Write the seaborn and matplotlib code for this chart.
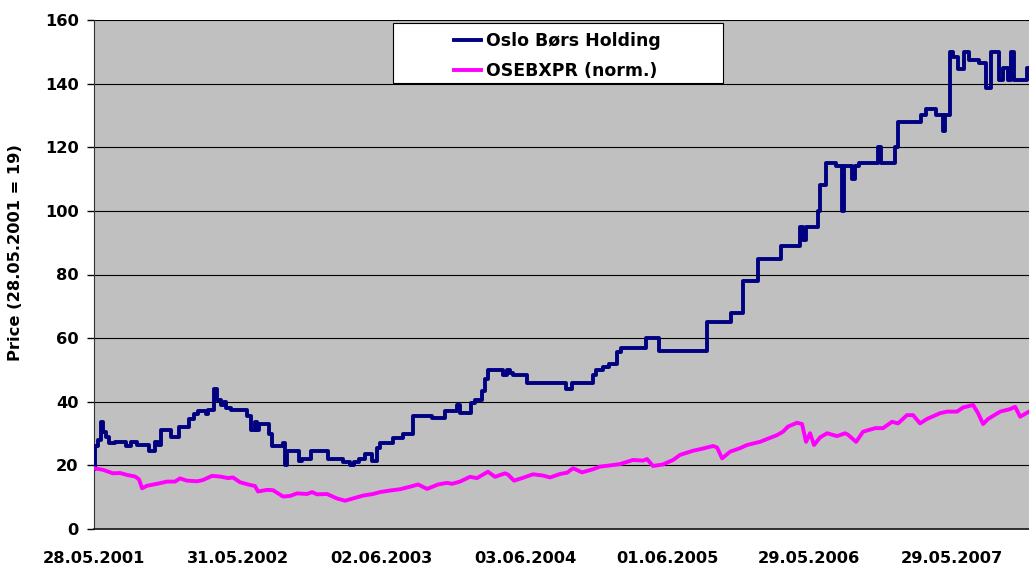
import numpy as np
import matplotlib
matplotlib.use("Agg")
import matplotlib.pyplot as plt
from matplotlib.patches import Rectangle
import pandas as pd
import seaborn as sns

# Start date of both series, time is given in years since this date
start_date = "28.05.2001"

# Oslo Børs Holding (step series: value holds from each time until the next)
holding_t = [0.000, 0.007, 0.028, 0.049, 0.063, 0.084, 0.105, 0.147, 0.224, 0.259,
             0.301, 0.385, 0.427, 0.448, 0.469, 0.538, 0.594, 0.664, 0.699, 0.727,
             0.783, 0.797, 0.839, 0.860, 0.888, 0.909, 0.923, 0.958, 1.070, 1.098,
             1.126, 1.140, 1.154, 1.224, 1.245, 1.322, 1.336, 1.350, 1.434, 1.455,
             1.517, 1.636, 1.741, 1.790, 1.818, 1.853, 1.895, 1.944, 1.979, 2.000,
             2.091, 2.161, 2.231, 2.364, 2.455, 2.538, 2.559, 2.636, 2.664, 2.713,
             2.734, 2.755, 2.860, 2.888, 2.909, 2.930, 3.028, 3.301, 3.343, 3.490,
             3.510, 3.559, 3.601, 3.657, 3.685, 3.860, 3.951, 4.287, 4.455, 4.538,
             4.643, 4.804, 4.937, 4.958, 4.979, 5.063, 5.077, 5.119, 5.189, 5.231,
             5.245, 5.301, 5.322, 5.350, 5.483, 5.503, 5.601, 5.622, 5.783, 5.818,
             5.888, 5.937, 5.951, 5.986, 6.007, 6.042, 6.084, 6.119, 6.189, 6.238,
             6.273, 6.329, 6.357, 6.392, 6.413, 6.434, 6.524, 6.538]
holding_v = [19, 26, 28, 33.5, 30.5, 29, 27, 27.5, 26, 27.5,
             26.5, 24.5, 27.5, 26.5, 31, 29, 32, 34.5, 36, 37,
             36, 37.5, 44, 40.5, 39, 40, 38, 37.5, 35.5, 31,
             33.5, 31, 33, 30, 26, 27, 20, 24.5, 21.5, 22,
             24.5, 22, 21, 20, 21, 22, 23.5, 21.5, 25.5, 27,
             28.5, 30, 35.5, 35, 37, 39, 36.5, 39.5, 40.5, 43.5,
             47, 50, 48.5, 50, 49, 48.5, 46, 44, 46, 48.5,
             50, 51, 52, 55.5, 57, 60, 56, 65, 68, 78,
             85, 89, 95, 91, 95, 100, 108, 115, 114, 100,
             114, 110, 114, 115, 120, 115, 120, 128, 130, 132,
             130, 125, 130, 150, 148.5, 144.5, 150, 147.5, 146.5, 138.5,
             150, 141, 145, 141, 150, 141, 145, 145]

# OSEBXPR, normalised to the same start value
osebx_t = [0.000, 0.063, 0.133, 0.182, 0.231, 0.287, 0.315, 0.336, 0.371, 0.441,
           0.510, 0.566, 0.601, 0.650, 0.720, 0.762, 0.825, 0.881, 0.937, 0.972,
           1.021, 1.077, 1.126, 1.147, 1.210, 1.252, 1.322, 1.371, 1.420, 1.490,
           1.524, 1.559, 1.629, 1.699, 1.755, 1.811, 1.881, 1.951, 2.000, 2.070,
           2.140, 2.210, 2.266, 2.329, 2.406, 2.469, 2.503, 2.559, 2.629, 2.678,
           2.755, 2.804, 2.874, 2.895, 2.937, 3.000, 3.070, 3.140, 3.189, 3.259,
           3.308, 3.350, 3.413, 3.490, 3.538, 3.629, 3.678, 3.769, 3.839, 3.867,
           3.909, 3.979, 4.049, 4.098, 4.189, 4.259, 4.329, 4.357, 4.392, 4.448,
           4.517, 4.566, 4.657, 4.713, 4.776, 4.818, 4.853, 4.916, 4.951, 4.979,
           5.007, 5.035, 5.077, 5.126, 5.196, 5.252, 5.273, 5.329, 5.378, 5.462,
           5.517, 5.580, 5.622, 5.685, 5.727, 5.776, 5.825, 5.916, 5.965, 6.035,
           6.077, 6.147, 6.182, 6.217, 6.252, 6.336, 6.406, 6.441, 6.476, 6.538]
osebx_v = [19.1, 18.6, 17.5, 17.6, 17.0, 16.5, 15.6, 12.8, 13.6, 14.2,
           14.9, 14.9, 15.9, 15.2, 15.0, 15.4, 16.7, 16.5, 16.0, 16.2,
           14.7, 14.0, 13.5, 11.8, 12.3, 12.2, 10.2, 10.4, 11.2, 11.0,
           11.6, 10.9, 11.0, 9.6, 8.9, 9.6, 10.5, 11.0, 11.6, 12.1,
           12.5, 13.3, 14.0, 12.6, 14.0, 14.5, 14.2, 14.9, 16.4, 16.0,
           18.0, 16.4, 17.5, 17.1, 15.2, 16.1, 17.2, 16.8, 16.2, 17.3,
           17.7, 19.1, 17.8, 18.8, 19.6, 20.1, 20.4, 21.7, 21.5, 22.0,
           19.8, 20.3, 21.7, 23.3, 24.6, 25.3, 26.1, 25.6, 22.2, 24.3,
           25.4, 26.4, 27.4, 28.4, 29.5, 30.6, 32.2, 33.4, 33.0, 27.4,
           30.1, 26.4, 28.8, 30.1, 29.2, 30.1, 29.6, 27.4, 30.6, 31.7,
           31.7, 33.7, 33.2, 35.8, 35.8, 33.2, 34.6, 36.4, 36.9, 36.9,
           38.2, 39.0, 36.4, 33.0, 34.6, 36.9, 37.7, 38.4, 35.3, 36.9]

tick_labels = ["28.05.2001", "31.05.2002", "02.06.2003", "03.06.2004",
               "01.06.2005", "29.05.2006", "29.05.2007"]
series_names = ["Oslo Børs Holding", "OSEBXPR (norm.)"]

plt.rcParams['font.family'] = ['DejaVu Sans']
plt.rcParams['font.weight'] = 'bold'
fs = 11.7

t0 = pd.to_datetime(start_date, format="%d.%m.%Y")
def to_dates(t):
    return t0 + pd.to_timedelta(np.array(t) * 365.25, unit="D")

df_hold = pd.DataFrame({"date": to_dates(holding_t), "value": holding_v})
df_osebx = pd.DataFrame({"date": to_dates(osebx_t), "value": osebx_v})

fig = plt.figure(figsize=(10.29, 5.69), dpi=100)
ax = fig.add_axes([94 / 1029, 1 - 529 / 569, 935 / 1029, 509 / 569])
ax.set_facecolor("#C0C0C0")

sns.lineplot(data=df_hold, x="date", y="value", ax=ax, color="#000080", lw=2.8,
             drawstyle="steps-post", estimator=None, sort=False, label=series_names[0],
             zorder=3)
sns.lineplot(data=df_osebx, x="date", y="value", ax=ax, color="#FF00FF", lw=2.8,
             estimator=None, sort=False, label=series_names[1], zorder=3)

# axes
ax.set_ylim(0, 160)
ax.set_yticks(range(0, 161, 20))
ax.set_xlim(t0, df_hold["date"].iloc[-1])
ax.set_xticks(pd.to_datetime(tick_labels, format="%d.%m.%Y"))
ax.set_xticklabels(tick_labels)
ax.tick_params(axis="x", length=0, pad=16, labelsize=fs)
ax.tick_params(axis="y", length=5, width=1, pad=6, labelsize=fs, direction="out")
ax.yaxis.grid(True, color="black", lw=0.8)
ax.xaxis.grid(False)
ax.set_axisbelow(True)
for s in ["top", "right"]:
    ax.spines[s].set_visible(False)
ax.spines["left"].set_color("#333333")
ax.spines["bottom"].set_color("#222222")
ax.spines["bottom"].set_linewidth(1.3)

ax.set_xlabel("")
ax.set_ylabel("Price (28.05.2001 = 19)", fontsize=fs, fontweight="bold")
ax.yaxis.set_label_coords(-0.076, 0.544)

# legend box
ax.add_patch(Rectangle((0.3195, 0.877), 0.353, 0.1167, transform=ax.transAxes,
                       facecolor="white", edgecolor="black", lw=0.8, zorder=5))
leg = ax.legend(loc="center", bbox_to_anchor=(0.496, 0.929), frameon=False,
                fontsize=12.5, handlelength=1.55, handletextpad=0.3, labelspacing=0.72,
                borderpad=0)
leg.set_zorder(6)
for line in leg.get_lines():
    line.set_linewidth(2.8)

fig.savefig("out.png", dpi=100)
